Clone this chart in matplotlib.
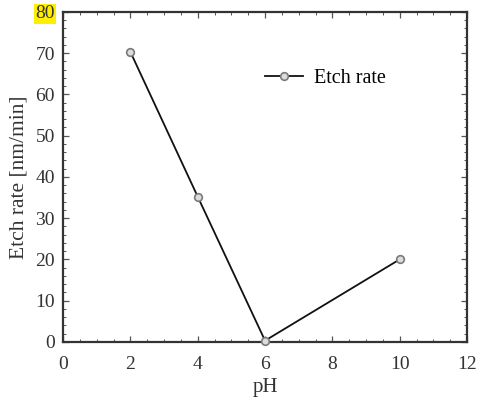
import matplotlib.pyplot as plt
from matplotlib.ticker import MultipleLocator

ph = [2, 4, 6, 10]
etch_rate = [70.3, 35.2, 0.3, 20.0]

plt.rcParams['font.family'] = ['Liberation Serif', 'DejaVu Serif']

fig = plt.figure(figsize=(4.78, 3.98), dpi=100)
ax = fig.add_axes([0.132, 0.141, 0.845, 0.829])

ax.plot(ph, etch_rate, color='#111111', lw=1.3, marker='o', ms=5.5,
        markerfacecolor='#dcdcdc', markeredgecolor='#7a7a7a', mew=1.2,
        label='Etch rate', clip_on=False, zorder=3)

ax.set_xlim(0, 12)
ax.set_ylim(0, 80)
ax.xaxis.set_major_locator(MultipleLocator(2))
ax.xaxis.set_minor_locator(MultipleLocator(0.5))
ax.yaxis.set_major_locator(MultipleLocator(10))
ax.yaxis.set_minor_locator(MultipleLocator(2))
ax.tick_params(which='both', direction='in', top=True, right=True,
               labelsize=14, colors='#555555', labelcolor='#333333')
ax.tick_params(axis='x', pad=10)
ax.tick_params(axis='y', pad=6)
ax.tick_params(which='major', length=4, width=0.9)
ax.tick_params(which='minor', length=2.5, width=0.7)
for s in ax.spines.values():
    s.set_linewidth(1.6)
    s.set_color('#333333')

ax.set_xlabel('pH', fontsize=15, color='#333333', labelpad=4)
ax.set_ylabel('Etch rate [nm/min]', fontsize=15.5, color='#333333', labelpad=5)

# highlight on the top tick label
for lab in ax.get_yticklabels():
    if lab.get_text() == '80':
        lab.set_bbox(dict(facecolor='#ffee00', edgecolor='none', pad=1))

ax.legend(loc='center left', bbox_to_anchor=(0.455, 0.797), frameon=False,
          fontsize=14.5, handlelength=1.9, handletextpad=0.55)

fig.savefig('out.png', dpi=100)
